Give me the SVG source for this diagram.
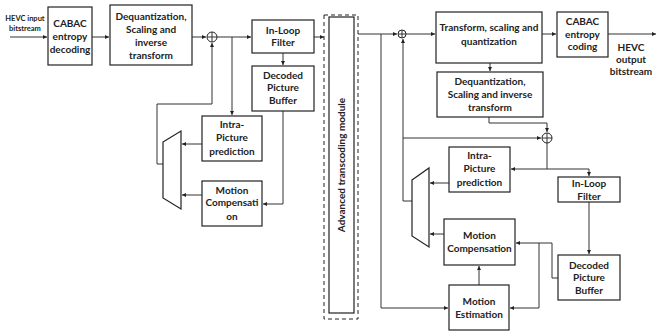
<svg xmlns="http://www.w3.org/2000/svg" width="658" height="332" viewBox="0 0 658 332">
<defs>
<marker id="ah" viewBox="0 0 6 6" refX="6" refY="3" markerWidth="4" markerHeight="4" orient="auto" markerUnits="userSpaceOnUse">
<path d="M0,0 L6,3 L0,6 z" fill="#222"/>
</marker>
<style>
.box{fill:#fff;stroke:#222;stroke-width:1.2}
.t{font-family:Lato,"Liberation Sans",sans-serif;font-weight:bold;font-size:10px;fill:#222;text-anchor:middle}
.s{font-size:7.5px}
.c{fill:none;stroke:#333;stroke-width:1;marker-end:url(#ah)}
.n{fill:none;stroke:#333;stroke-width:1}
.sum{fill:#fff;stroke:#222;stroke-width:1}
</style>
</defs>
<rect width="658" height="332" fill="#fff"/>
<g id="connectors">
<path class="c" d="M10,37 H47"/>
<path class="c" d="M92,37 H109"/>
<path class="c" d="M192,37 H206"/>
<path class="c" d="M217,37 H251"/>
<path class="c" d="M232,37 V115"/>
<path class="c" d="M283,53 V65"/>
<path class="c" d="M283,111 V204 H263"/>
<path class="c" d="M314,37 H324"/>
<path class="c" d="M202,144 H182"/>
<path class="c" d="M202,195 H182"/>
<path class="c" d="M163,164 H157 V104 H212 V43"/>
<path class="c" d="M358,34 H397"/>
<path class="c" d="M406,34 H435"/>
<path class="c" d="M381,34 V308 H448"/>
<path class="c" d="M490,63 V71"/>
<path class="c" d="M542,34 H556"/>
<path class="c" d="M608,34 H656"/>
<path class="c" d="M489,117 V123 H547 V132"/>
<path class="c" d="M412,201 H403 V39"/>
<path class="c" d="M403,138 H541"/>
<path class="c" d="M547,143 V169 H589 V176"/>
<path class="c" d="M547,169 H511"/>
<path class="c" d="M589,202 V254"/>
<path class="c" d="M558,278 H552 V243 H516"/>
<path class="c" d="M539,243 V308 H510"/>
<path class="c" d="M479,285 V266"/>
<path class="c" d="M449,183 H430"/>
<path class="c" d="M444,234 H430"/>
</g>
<g id="input-label">
<text class="t s" x="25" y="21">HEVC input</text>
<text class="t s" x="25" y="31">bitstream</text>
</g>
<g id="cabac-dec">
<rect class="box" x="48" y="7" width="44" height="58"/>
<text class="t" x="70" y="27">CABAC</text>
<text class="t" x="70" y="40">entropy</text>
<text class="t" x="70" y="53">decoding</text>
</g>
<g id="dequant-dec">
<rect class="box" x="110" y="5" width="82" height="60"/>
<text class="t" x="151" y="20">Dequantization,</text>
<text class="t" x="151" y="33">Scaling and</text>
<text class="t" x="151" y="46">inverse</text>
<text class="t" x="151" y="59">transform</text>
</g>
<g id="sum-dec">
<circle class="sum" cx="212" cy="37" r="5"/>
<path class="n" d="M207,37 H217 M212,32 V42"/>
</g>
<g id="inloop-dec">
<rect class="box" x="252" y="20" width="62" height="33"/>
<text class="t" x="283" y="34">In-Loop</text>
<text class="t" x="283" y="46">Filter</text>
</g>
<g id="dpb-dec">
<rect class="box" x="252" y="66" width="62" height="45"/>
<text class="t" x="283" y="79">Decoded</text>
<text class="t" x="283" y="91">Picture</text>
<text class="t" x="283" y="104">Buffer</text>
</g>
<g id="intra-dec">
<rect class="box" x="202" y="116" width="60" height="45"/>
<text class="t" x="232" y="128">Intra-</text>
<text class="t" x="232" y="141">Picture</text>
<text class="t" x="232" y="155">prediction</text>
</g>
<g id="mc-dec">
<rect class="box" x="202" y="181" width="60" height="45"/>
<text class="t" x="232" y="194">Motion</text>
<text class="t" x="232" y="206">Compensati</text>
<text class="t" x="232" y="220">on</text>
</g>
<g id="mux-dec">
<polygon class="box" points="163,142 181,131 181,209 163,198"/>
</g>
<g id="module">
<rect x="324" y="15" width="34" height="304" fill="#fff" stroke="#222" stroke-width="1" stroke-dasharray="4,3"/>
<rect class="box" x="329" y="17" width="25" height="296"/>
<text class="t" transform="translate(344.5,165) rotate(-90)" x="0" y="0">Advanced transcoding module</text>
</g>
<g id="sum-enc1">
<circle class="sum" cx="402" cy="34" r="4"/>
<path class="n" d="M398,34 H406 M402,30 V38"/>
</g>
<g id="transform-enc">
<rect class="box" x="436" y="12" width="106" height="51"/>
<text class="t" x="489" y="31">Transform, scaling and</text>
<text class="t" x="489" y="45">quantization</text>
</g>
<g id="cabac-enc">
<rect class="box" x="557" y="12" width="51" height="45"/>
<text class="t" x="582.5" y="25">CABAC</text>
<text class="t" x="582.5" y="38">entropy</text>
<text class="t" x="582.5" y="50">coding</text>
</g>
<g id="output-label">
<text class="t" x="631" y="51">HEVC</text>
<text class="t" x="631" y="63">output</text>
<text class="t" x="631" y="75">bitstream</text>
</g>
<g id="dequant-enc">
<rect class="box" x="437" y="72" width="106" height="45"/>
<text class="t" x="490" y="85">Dequantization,</text>
<text class="t" x="490" y="98">Scaling and inverse</text>
<text class="t" x="490" y="111">transform</text>
</g>
<g id="sum-enc2">
<circle class="sum" cx="547" cy="138" r="5"/>
<path class="n" d="M542,138 H552 M547,133 V143"/>
</g>
<g id="intra-enc">
<rect class="box" x="449" y="147" width="61" height="45"/>
<text class="t" x="479.5" y="159">Intra-</text>
<text class="t" x="479.5" y="172">Picture</text>
<text class="t" x="479.5" y="186">prediction</text>
</g>
<g id="inloop-enc">
<rect class="box" x="558" y="177" width="62" height="25"/>
<text class="t" x="589" y="187">In-Loop</text>
<text class="t" x="589" y="200">Filter</text>
</g>
<g id="dpb-enc">
<rect class="box" x="558" y="255" width="62" height="45"/>
<text class="t" x="589" y="269">Decoded</text>
<text class="t" x="589" y="281">Picture</text>
<text class="t" x="589" y="294">Buffer</text>
</g>
<g id="mc-enc">
<rect class="box" x="444" y="219" width="71" height="46"/>
<text class="t" x="479.5" y="239">Motion</text>
<text class="t" x="479.5" y="252">Compensation</text>
</g>
<g id="me-enc">
<rect class="box" x="449" y="285" width="60" height="45"/>
<text class="t" x="479" y="305">Motion</text>
<text class="t" x="479" y="318">Estimation</text>
</g>
<g id="mux-enc">
<polygon class="box" points="412,180 429,168 429,247 412,236"/>
</g>
</svg>
